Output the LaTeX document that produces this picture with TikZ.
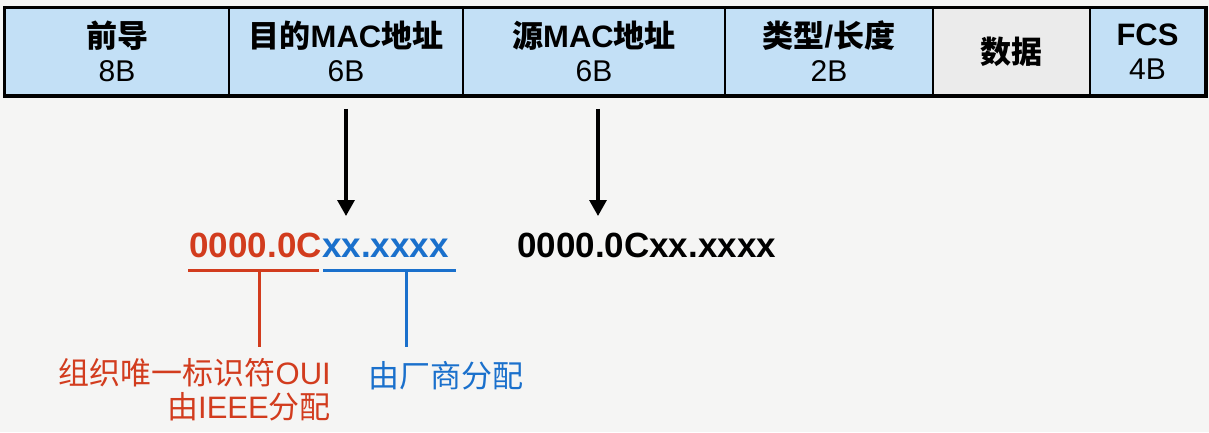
\documentclass[tikz,border=0pt]{standalone}
\usepackage{fontspec}
\setmainfont{Liberation Sans}
\newfontfamily\cjk{Noto Sans CJK SC}
\usetikzlibrary{arrows.meta, positioning}

\definecolor{cellblue}{HTML}{C3E0F6}
\definecolor{cellgrey}{HTML}{EBEBEB}
\definecolor{pagebg}{HTML}{F5F5F4}
\definecolor{ouired}{HTML}{D23C1E}
\definecolor{nicblue}{HTML}{1A70CC}

\newcommand{\zh}[1]{{\cjk #1}}
\newcommand{\hd}[1]{{\bfseries\fontsize{31}{34}\selectfont #1}}

\tikzset{
  cellbox/.style={draw, line width=1.5pt, minimum height=87, inner sep=0pt,
    align=center, font=\fontsize{30}{34}\selectfont},
  macbig/.style={inner sep=0pt, font=\bfseries\fontsize{35}{40}\selectfont},
  lbl/.style={inner sep=0pt, font=\fontsize{31}{34}\selectfont},
  arrline/.style={line width=3.2pt, ->},
  markline/.style={line width=3pt},
}

\begin{document}
\begin{tikzpicture}[x=1pt, y=-1pt, >={Triangle[length=16pt, width=17pt]}]

\fill[pagebg] (0,0) rectangle (1209,432);
\useasboundingbox (0,0) rectangle (1209,432);

% Frame cell: name, left x, right x, fill, text
\newcommand{\fcell}[5]{
    \node[cellbox, fill=#4, minimum width=#3-#2] (#1) at ({(#2+#3)/2}, 51.5) {#5};
}

% --- Ethernet frame ---
\fcell{pre}{5}{229}{cellblue}{\hd{\zh{前导}}\\8B}
\fcell{dst}{229}{463}{cellblue}{\hd{\zh{目的}MAC\zh{地址}}\\6B}
\fcell{src}{463}{725}{cellblue}{\hd{\zh{源}MAC\zh{地址}}\\6B}
\fcell{type}{725}{933}{cellblue}{\hd{\zh{类型}/\zh{长度}}\\2B}
\fcell{data}{933}{1090}{cellgrey}{\hd{\zh{数据}}}
\fcell{fcs}{1090}{1205}{cellblue}{\hd{FCS}\\4B}
\draw[line width=3.5pt] (pre.north west) rectangle (fcs.south east);

% --- Addresses ---
\node[macbig, text=ouired, anchor=base east] (oui) at (322,257) {0000.0C};
\node[macbig, text=nicblue, anchor=base west] (nic) at (oui.base east) {xx.xxxx};
\node[macbig, anchor=base west] (smac) at (517,257) {0000.0Cxx.xxxx};

\coordinate (dtip) at (345,216);
\coordinate (stip) at (598,216);
\draw[arrline] ([yshift=-13pt]dst.south) -- (dst.south |- dtip);
\draw[arrline] ([yshift=-13pt]src.south -| stip) -- (stip);

% --- OUI / vendor parts ---
\coordinate (ouil) at (188,270);
\coordinate (ouir) at (319,270);
\coordinate (ouim) at (259,270);
\coordinate (nicl) at (323,270);
\coordinate (nicr) at (456,270);
\coordinate (nicm) at (406,270);

\node[lbl, text=ouired, align=right, anchor=north east] (ouitxt) at (331,358)
    {\zh{组织唯一标识符}OUI\\\zh{由}IEEE\zh{分配}};
\node[lbl, text=nicblue, anchor=west] (nictxt) at (368,376) {\zh{由厂商分配}};

\draw[markline, ouired] (ouil) -- (ouir);
\draw[markline, ouired] (ouim) -- (ouim |- 0,347);
\draw[markline, nicblue] (nicl) -- (nicr);
\draw[markline, nicblue] (nicm) -- (nicm |- 0,347);

\end{tikzpicture}
\end{document}
